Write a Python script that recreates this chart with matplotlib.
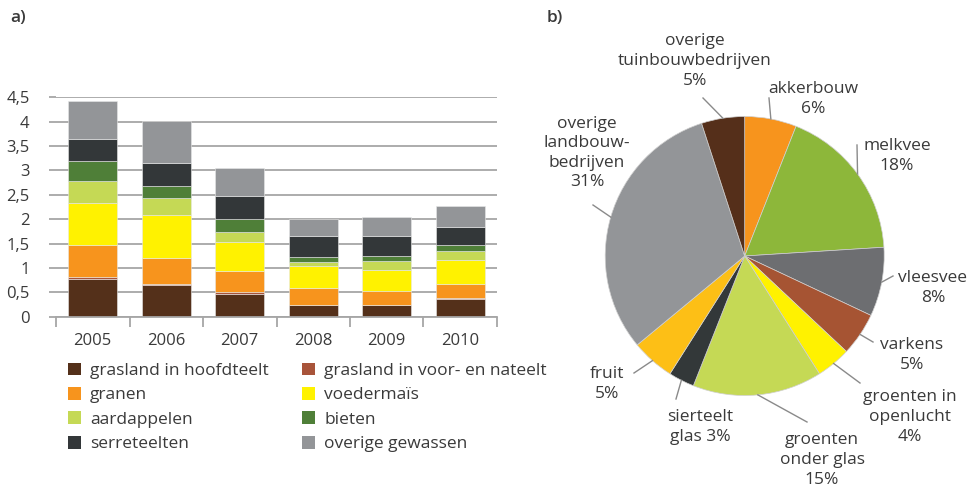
import matplotlib
matplotlib.use("Agg")
import matplotlib.pyplot as plt
from matplotlib.patches import Patch
import numpy as np

plt.rcParams['font.family'] = ['Open Sans', 'DejaVu Sans']

# ---- data a) ----
jaren = ["2005", "2006", "2007", "2008", "2009", "2010"]
gewassen = ["grasland in hoofdteelt", "grasland in voor- en nateelt", "granen",
            "voedermaïs", "aardappelen", "bieten", "serreteelten",
            "overige gewassen"]
grasland_hoofd = [0.77, 0.65, 0.47, 0.24, 0.24, 0.36]
grasland_voor_na = [0.05, 0.03, 0.035, 0.01, 0.01, 0.02]
granen = [0.66, 0.53, 0.43, 0.33, 0.28, 0.30]
voedermais = [0.86, 0.875, 0.595, 0.465, 0.425, 0.48]
aardappelen = [0.435, 0.345, 0.205, 0.08, 0.18, 0.18]
bieten = [0.41, 0.26, 0.265, 0.095, 0.115, 0.13]
serreteelten = [0.465, 0.47, 0.47, 0.44, 0.395, 0.38]
overige_gewassen = [0.77, 0.845, 0.585, 0.345, 0.41, 0.425]
kleuren_a = ["#54301a", "#a8543a", "#f7941d", "#fff200", "#c5d955",
             "#4f7f38", "#333739", "#939598"]

# ---- data b) ----
sectoren = ["akkerbouw\n6%", "melkvee\n18%", "vleesvee\n8%", "varkens\n5%",
            "groenten in\nopenlucht\n4%", "groenten\nonder glas\n15%",
            "sierteelt\nglas 3%", "fruit\n5%",
            "overige\nlandbouw-\nbedrijven\n31%",
            "overige\ntuinbouwbedrijven\n5%"]
aandeel = [6, 18, 8, 5, 4, 15, 3, 5, 31, 5]
kleuren_b = ["#f7941d", "#8db73a", "#6d6e71", "#a65433", "#fff200",
             "#c5d955", "#333839", "#fdbf16", "#939598", "#552f1a"]

tekst = "#3a3a3a"
grijs = "#a6a6a6"
W, H = 975, 492

fig = plt.figure(figsize=(9.75, 4.92), dpi=100)

# ---- a) stacked bars ----
ax = fig.add_axes([56 / W, 175.3 / H, 441 / W, 219.4 / H])
reeksen = [grasland_hoofd, grasland_voor_na, granen, voedermais,
           aardappelen, bieten, serreteelten, overige_gewassen]
x = np.arange(len(jaren))
onder = np.zeros(len(jaren))
for naam, waarden, kl in zip(gewassen, reeksen, kleuren_a):
    ax.bar(x, waarden, 0.67, bottom=onder, color=kl, label=naam,
           edgecolor="#e8e8e8", linewidth=0.4, zorder=3)
    onder += np.array(waarden)

ax.set_xlim(-0.5, len(jaren) - 0.5)
ax.set_ylim(0, 4.5)
ax.set_yticks(np.arange(0, 4.51, 0.5))
ax.set_yticklabels(["0", "0,5", "1", "1,5", "2", "2,5", "3", "3,5", "4", "4,5"])
ax.yaxis.grid(True, color=grijs, linewidth=1.3, zorder=0)
ax.tick_params(axis="y", length=5, width=1.3, color=grijs, labelsize=12,
               labelcolor=tekst, pad=14)
ax.set_xticks(np.arange(-0.5, len(jaren), 1.0))
ax.set_xticklabels([])
ax.set_xticks(x, minor=True)
ax.set_xticklabels(jaren, minor=True)
ax.tick_params(axis="x", which="major", length=7, width=1.3, color=grijs,
               direction="out")
ax.tick_params(axis="x", which="minor", length=0, labelsize=12,
               labelcolor=tekst, pad=12)
for s in ["left", "right", "top"]:
    ax.spines[s].set_visible(False)
ax.spines["bottom"].set_color(grijs)
ax.spines["bottom"].set_linewidth(1.3)
ax.spines["bottom"].set_zorder(4)

handles = [Patch(facecolor=k) for k in kleuren_a]
for kol in range(2):
    leg = fig.legend(handles[kol::2], gewassen[kol::2], loc="upper left",
                     bbox_to_anchor=([59, 293][kol] / W, 1 - 354 / H),
                     frameon=False, fontsize=12.5, handlelength=0.75,
                     handleheight=0.75, handletextpad=0.55, labelspacing=0.46,
                     borderpad=0, labelcolor=tekst)

# ---- b) pie ----
cx, cy, r = 744.7, 256, 139.5
pax = fig.add_axes([540 / W, 0, 435 / W, 1])
wedges, _ = pax.pie(aandeel, colors=kleuren_b, startangle=90,
                    counterclock=False, radius=1,
                    wedgeprops=dict(linewidth=0.5, edgecolor="#d0d0d0"))
pax.set_xlim((540 - cx) / r, (975 - cx) / r)
pax.set_ylim(-(H - cy) / r, cy / r)
pax.set_aspect("equal")


def px(p):
    return ((p[0] - cx) / r, (cy - p[1]) / r)


# text centre (px), leader end (px)
label_pos = [
    ((813, 99), (769, 98)),
    ((897, 156), (857, 145)),
    ((933, 288), (893, 276)),
    ((912, 355), (873, 342)),
    ((910, 417), (860, 383)),
    ((822, 460), (807, 422)),
    ((700, 427), (676, 399)),
    ((607, 384), (634, 373)),
    ((587, 153), (593, 205)),
    ((695, 61), (703, 98)),
]
for w, lab, (tpos, lend) in zip(wedges, sectoren, label_pos):
    hoek = np.deg2rad((w.theta1 + w.theta2) / 2)
    start = (np.cos(hoek), np.sin(hoek))
    pax.plot([start[0], px(lend)[0]], [start[1], px(lend)[1]],
             color="#8a8a8a", linewidth=1, clip_on=False)
    pax.text(*px(tpos), lab, ha="center", va="center", fontsize=12.5,
             color=tekst, linespacing=1.3)

fig.text(10 / W, 1 - 18 / H, "a)", fontsize=12.5, color=tekst,
         va="center", fontweight="semibold")
fig.text(547 / W, 1 - 18 / H, "b)", fontsize=12.5, color=tekst,
         va="center", fontweight="semibold")

fig.savefig("out.png", dpi=100, facecolor="white")
